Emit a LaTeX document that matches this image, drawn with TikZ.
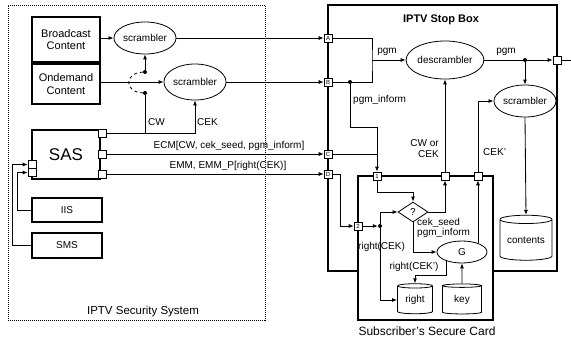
\documentclass[tikz,border=0pt]{standalone}
\usepackage{fontspec}
\setmainfont{Liberation Sans}
\usetikzlibrary{arrows.meta,shapes.geometric,calc}
\begin{document}
\begin{tikzpicture}[x=1pt,y=-1pt,
  box/.style={draw, line width=1.6pt, inner sep=0pt, align=center, font=\fontsize{11}{12.5}\selectfont},
  ell/.style={ellipse, draw, line width=0.8pt, inner sep=0pt, font=\fontsize{10}{10}\selectfont},
  port/.style={draw, fill=white, line width=0.6pt, minimum size=8pt, inner sep=0pt, font=\fontsize{6}{6}\selectfont},
  ln/.style={line width=0.85pt},
  arr/.style={ln, -{Latex[length=5pt,width=4pt]}},
  dot/.style={circle, fill, inner sep=0pt, minimum size=4pt},
  lbl/.style={inner sep=0pt, font=\fontsize{10}{11}\selectfont},
  cyl/.style={cylinder, shape border rotate=90, draw, line width=0.8pt, aspect=0.22, inner sep=0pt, font=\fontsize{10}{10}\selectfont}
]
\useasboundingbox (0,0) rectangle (571,341);

% IPTV Security System
\node[draw, dash pattern=on 1pt off 1pt, line width=1pt, minimum width=257pt, minimum height=315pt, inner sep=0pt] (iss) at (136.5,162.5) {};
\node[lbl, font=\fontsize{11.5}{12}\selectfont] (isslbl) at (143,312) {IPTV Security System};

\node[box, minimum width=68pt, minimum height=45pt] (bc) at (66,39.5) {Broadcast\\Content};
\node[box, minimum width=68pt, minimum height=40pt] (od) at (66,84) {Ondemand\\Content};
\node[ell, minimum width=48pt, minimum height=32pt] (scr1) at (145,38) {scrambler};
\node[ell, minimum width=50pt, minimum height=36pt] (scr2) at (195,82) {scrambler};

\node[box, minimum width=68pt, minimum height=49pt, font=\fontsize{17}{17}\selectfont] (sas) at (66,154.5) {SAS};
\node[port] (s1) at (102,133) {};
\node[port] (s2) at (102,154) {};
\node[port] (s3) at (102,174) {};
\node[port] (sl1) at (32,164.5) {};
\node[port] (sl2) at (32,172.5) {};
\node[box, minimum width=70pt, minimum height=24pt, font=\fontsize{10}{10}\selectfont] (iis) at (67,210) {IIS};
\node[box, minimum width=70pt, minimum height=25pt, font=\fontsize{10}{10}\selectfont] (sms) at (67,245.5) {SMS};

% IPTV Set-top box
\node[draw, line width=1.6pt, minimum width=229pt, minimum height=266pt, inner sep=0pt] (stb) at (442.5,138) {};
\node[lbl, font=\fontsize{11}{12}\selectfont\bfseries] (stblbl) at (441,20) {IPTV Stop Box};
% Secure card
\node[draw, fill=white, line width=1.6pt, minimum width=135pt, minimum height=144pt, inner sep=0pt] (card) at (425.5,248) {};
\node[lbl, font=\fontsize{12}{12}\selectfont] (cardlbl) at (427,331) {Subscriber's Secure Card};

\node[ell, minimum width=62pt, minimum height=38pt] (desc) at (445,60) {descrambler};
\node[ell, minimum width=50pt, minimum height=32pt] (scr3) at (525,101) {scrambler};
\node[cyl, minimum width=52pt, minimum height=45pt] (cont) at (526,240) {contents};
\node[diamond, draw, line width=0.8pt, minimum width=30pt, minimum height=20pt, inner sep=0pt, aspect=1.5, font=\fontsize{10}{10}\selectfont] (q) at (413,212) {?};
\node[ell, minimum width=50pt, minimum height=22pt] (G) at (462,252) {G};
\node[cyl, minimum width=35pt, minimum height=30pt] (right) at (415,300) {right};
\node[cyl, minimum width=39pt, minimum height=30pt] (key) at (462,300) {key};

\node[port] (A) at (328,38) {A};
\node[port] (B) at (328,82) {B};
\node[port] (C) at (328,154) {C};
\node[port] (D) at (328,174) {D};
\node[port] (E) at (557,60) {};
\node[port] (p1) at (377,176) {1};
\node[port] (p2) at (358,226) {2};
\node[port] (pcw) at (445,176) {};
\node[port] (pck) at (478,176) {};

% left side connectors
\draw[arr] (bc.east |- scr1.west) -- (scr1.west);
\draw[arr] (od.east |- scr2.west) -- (scr2.west);
\node[dot] (sw1) at (145,72) {};
\node[dot] (sw2) at (145,93) {};
\draw[arr] (sw1) -- (scr1.south);
\draw[ln, dashed] (sw1) .. controls (124,73) and (124,92) .. (sw2);
\draw[arr] (s1.east) -- (s1.east -| scr2.south) -- (scr2.south);
\draw[ln] (sw2) -- (sw2 |- s1.east);
\node[lbl, anchor=west] (cwl) at (148,122) {CW};
\node[lbl, anchor=west] (cekl) at (197,122) {CEK};
\draw[arr] (s2.east) -- (C.west);
\node[lbl] (ecml) at (229,146) {ECM[CW, cek\_seed, pgm\_inform]};
\draw[arr] (s3.east) -- (D.west);
\node[lbl] (emml) at (228,166) {EMM, EMM\_P[right(CEK)]};
\draw[arr] (iis.west) -- ++(-14,0) |- (sl2.west);
\draw[arr] (sms.west) -- ++(-19,0) |- (sl1.west);
\draw[arr] (scr1.east) -- (A.west);
\draw[arr] (scr2.east) -- (B.west);

% set-top box connectors
\coordinate (mAB) at (372,60);
\draw[ln] (A.east) -| (mAB) |- (B.east);
\draw[arr] (mAB) -- (desc.west);
\node[lbl] (pgm1) at (387,52) {pgm};
\node[dot] (dB) at (350,82) {};
\draw[arr] (dB) -- ++(0,45) -| (p1.north);
\node[lbl, anchor=west] (pgmi) at (353,100) {pgm\_inform};
\draw[ln] (C.east) -- (C.east -| p1.north);
\draw[arr] (desc.east) -- (E.west);
\node[lbl] (pgm2) at (506,52) {pgm};
\node[dot] (dE) at (525,60) {};
\draw[arr] (dE) -- (scr3.north);
\coordinate (out) at (571,60);
\draw[ln] (E.east) -- (out);
\draw[arr] (scr3.south) -- (cont.north);
\draw[arr] (pck.north) |- (scr3.west);
\node[lbl, anchor=west] (cekpl) at (483,152) {CEK'};
\draw[arr] (pcw.north) -- (pcw.north |- desc.south);
\node[lbl, anchor=east, align=right] (cwcek) at (439,149) {CW or\\CEK};

% card connectors
\draw[arr] (D.east) -- ++(8,0) |- (p2.west);
\node[dot] (jn) at (380,226) {};
\draw[arr] (p2.east) -- (jn.west);
\draw[arr] (jn) |- (q.west);
\draw[arr] (jn) |- (right.west);
\node[lbl, anchor=west] (rcek) at (358,247) {right(CEK)};
\draw[arr] (p1.south) -- ++(0,12) -| (q.north);
\draw[arr] (q.east) -| (pcw.south);
\draw[arr] (q.south) |- (G.west);
\node[lbl, anchor=north west, align=left, font=\fontsize{10}{10}\selectfont] (seedl) at (417,218) {cek\_seed\\pgm\_inform};
\draw[arr] (pck.south |- G.28) -- (pck.south);
\draw[arr] (key.north) -- (G.south);
\draw[arr] (G.210) -- ++(0,14) -| (right.north);
\node[lbl] (rcekp) at (414,267) {right(CEK')};
\end{tikzpicture}
\end{document}
